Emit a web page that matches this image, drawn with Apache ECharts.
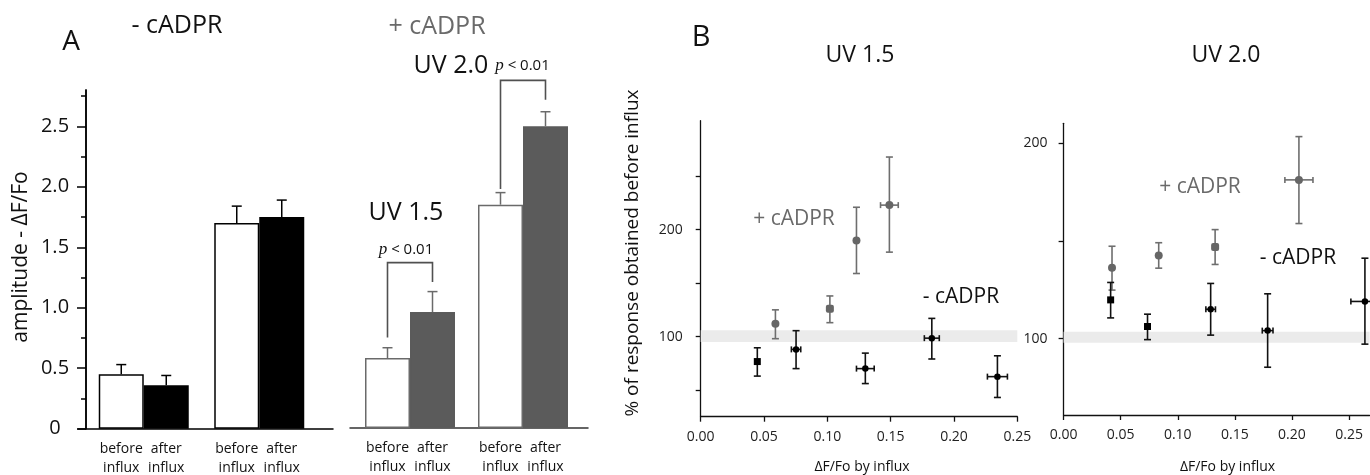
<!DOCTYPE html>
<html><head><meta charset="utf-8">
<script src="https://cdn.jsdelivr.net/npm/echarts@6/dist/echarts.min.js"></script>
<style>html,body{margin:0;padding:0;background:#fff}#c{width:1370px;height:475px}</style>
</head><body><div id="c"></div>
<script>
// ---------- Panel A: amplitude bars ----------
const uvLevels = ['UV 1.5', 'UV 2.0'];
const minusBefore = [0.45, 1.70];
const minusBeforeErr = [0.08, 0.14];
const minusAfter = [0.36, 1.75];
const minusAfterErr = [0.08, 0.14];
const plusBefore = [0.58, 1.85];
const plusBeforeErr = [0.085, 0.10];
const plusAfter = [0.96, 2.50];
const plusAfterErr = [0.17, 0.12];
// significance brackets: [uv index, left foot, top, right foot]
const brackets = [[0, 0.75, 1.37, 1.21], [1, 1.98, 2.88, 2.72]];
const ampMajorTicks = [0, 0.5, 1.0, 1.5, 2.0, 2.5];
const ampMinorTicks = [0.25, 0.75, 1.25, 1.75, 2.25, 2.75];

// ---------- Panel B: UV 1.5 ----------
const plus15X = [0.059, 0.102, 0.123, 0.149];
const plus15Y = [112, 126, 190, 223];
const plus15Lo = [98, 113, 159, 179];
const plus15Hi = [125, 138, 221, 268];
const plus15XErr = [0, 0, 0, 0.007];
const plus15Shape = ['circle', 'roundRect', 'circle', 'circle'];
const minus15X = [0.0447, 0.0753, 0.130, 0.1825, 0.2343];
const minus15Y = [76.6, 88, 70, 98.5, 62.5];
const minus15Lo = [63, 70, 56, 79, 43];
const minus15Hi = [89.5, 105.5, 84.5, 117, 82];
const minus15XErr = [0, 0.0037, 0.007, 0.0059, 0.0079];
const minus15Shape = ['rect', 'circle', 'circle', 'circle', 'circle'];
const band15 = [95, 106];
const ticks15 = [50, 100, 150, 200, 250];
const labels15 = [100, 200];

// ---------- Panel B: UV 2.0 ----------
const plus20X = [0.0424, 0.0833, 0.1327, 0.2061];
const plus20Y = [136.2, 142.5, 146.8, 181.1];
const plus20Lo = [124.8, 136, 137.9, 158.8];
const plus20Hi = [147.2, 149, 155.7, 203.2];
const plus20XErr = [0, 0, 0, 0.0123];
const plus20Shape = ['circle', 'circle', 'roundRect', 'circle'];
const minus20X = [0.0412, 0.0735, 0.1288, 0.1787, 0.2639];
const minus20Y = [119.8, 106.2, 115, 104.1, 119];
const minus20Lo = [110.6, 99.5, 101.8, 85.4, 97.2];
const minus20Hi = [128.7, 112.5, 128.2, 122.9, 141.1];
const minus20XErr = [0, 0, 0.0042, 0.0047, 0.0123];
const minus20Shape = ['rect', 'rect', 'circle', 'circle', 'circle'];
const band20 = [97.9, 103.5];
const ticks20 = [100, 150, 200];
const labels20 = [100, 200];
const xTicksB = [0, 0.05, 0.10, 0.15, 0.20, 0.25];

const FONT = '"Open Sans", "Noto Sans", sans-serif';
const GRAY = '#6a6a6a';
const BAR_W = 45;

function barErr(offsetSign, color) {
  return function (params, api) {
    const c = api.value(0), v = api.value(1), e = api.value(2);
    const b = api.coord([c, v]);
    const t = api.coord([c, v + e]);
    const x = b[0] + offsetSign * BAR_W / 2;
    return {type: 'group', children: [
      {type: 'line', shape: {x1: x, y1: b[1], x2: x, y2: t[1]}, style: {stroke: color, lineWidth: 1.5}},
      {type: 'line', shape: {x1: x - 5, y1: t[1], x2: x + 5, y2: t[1]}, style: {stroke: color, lineWidth: 1.5}}
    ]};
  };
}
function bracketRender(params, api) {
  const c = api.value(0);
  const l = api.coord([c, api.value(1)]);
  const t = api.coord([c, api.value(2)]);
  const r = api.coord([c, api.value(3)]);
  const xl = l[0] - BAR_W / 2, xr = l[0] + BAR_W / 2;
  return {type: 'polyline', shape: {points: [[xl, l[1]], [xl, t[1]], [xr, t[1]], [xr, r[1]]]},
    style: {stroke: '#505050', lineWidth: 1.6, fill: null}};
}
function ptErr(color) {
  return function (params, api) {
    const x = api.value(0), y = api.value(1), lo = api.value(2), hi = api.value(3), xe = api.value(4);
    const pl = api.coord([x, lo]), ph = api.coord([x, hi]);
    const st = {stroke: color, lineWidth: 1.6};
    const ch = [
      {type: 'line', shape: {x1: pl[0], y1: pl[1], x2: ph[0], y2: ph[1]}, style: st},
      {type: 'line', shape: {x1: pl[0] - 3.5, y1: pl[1], x2: pl[0] + 3.5, y2: pl[1]}, style: st},
      {type: 'line', shape: {x1: ph[0] - 3.5, y1: ph[1], x2: ph[0] + 3.5, y2: ph[1]}, style: st}
    ];
    if (xe > 0) {
      const a = api.coord([x - xe, y]), b = api.coord([x + xe, y]);
      ch.push({type: 'line', shape: {x1: a[0], y1: a[1], x2: b[0], y2: b[1]}, style: st});
      ch.push({type: 'line', shape: {x1: a[0], y1: a[1] - 3, x2: a[0], y2: a[1] + 3}, style: st});
      ch.push({type: 'line', shape: {x1: b[0], y1: b[1] - 3, x2: b[0], y2: b[1] + 3}, style: st});
    }
    return {type: 'group', children: ch};
  };
}
const sizeOf = {circle: 8, roundRect: 8, rect: 7};
function pts(X, Y, shapes, small) {
  return X.map((x, i) => ({value: [x, Y[i]], symbol: shapes[i],
    symbolSize: shapes[i] === 'circle' && small ? 6.5 : sizeOf[shapes[i]]}));
}
function errData(X, Y, Lo, Hi, XE) { return X.map((x, i) => [x, Y[i], Lo[i], Hi[i], XE[i]]); }

const barLabel = {show: true, position: 'bottom', distance: 11,
  formatter: p => p.seriesName.replace(' ', '\n'),
  color: '#111', fontSize: 14, lineHeight: 19, fontFamily: FONT};

const lineOnlyX = (gi, color) => ({gridIndex: gi, type: 'value', min: 0, max: 1,
  axisLine: {show: true, lineStyle: {color: color, width: 1.5}}, axisTick: {show: false},
  axisLabel: {show: false}, splitLine: {show: false}});
const bX = (gi, max) => ({gridIndex: gi, type: 'value', min: 0, max: max,
  axisLine: {show: true, lineStyle: {color: '#111', width: 1.3}},
  axisTick: {show: true, length: 5, customValues: xTicksB, lineStyle: {color: '#111', width: 1.3}},
  axisLabel: {customValues: xTicksB, formatter: v => v.toFixed(2), fontSize: 14, color: '#222', margin: 13, fontFamily: FONT},
  splitLine: {show: false}});
const bY = (gi, min, max, ticks, labels, margin) => ({gridIndex: gi, type: 'value', min: min, max: max,
  axisLine: {show: true, lineStyle: {color: '#111', width: 1.3}},
  axisTick: {show: true, length: 5, customValues: ticks, lineStyle: {color: '#111', width: 1.3}},
  axisLabel: {customValues: labels, fontSize: 14, color: '#222', margin: margin, fontFamily: FONT},
  splitLine: {show: false}});

function txt(text, x, y, size, color, extra) {
  return Object.assign({type: 'text', x: x, y: y, silent: true,
    style: {text: text, font: size + 'px ' + FONT, fill: color || '#111',
      align: 'center', verticalAlign: 'middle'}},
    extra && extra.rotation ? {rotation: extra.rotation} : {});
}
const pRich = {i: {fontStyle: 'italic', fontFamily: '"Liberation Serif", "DejaVu Serif", serif', fontSize: 17, fill: '#111'}};

const option = {
  animation: false,
  backgroundColor: '#fff',
  grid: [
    {left: 86, top: 90, width: 231, height: 338.7},
    {left: 353.5, top: 90, width: 226, height: 338},
    {left: 78, top: 90, width: 255, height: 338.7},
    {left: 350, top: 90, width: 238, height: 338},
    {left: 700.7, top: 120.7, width: 316.6, height: 296},
    {left: 1063.6, top: 123.3, width: 306, height: 291.7},
    {left: 86, top: 90, width: 231, height: 338.7}
  ],
  xAxis: [
    {gridIndex: 0, type: 'category', data: uvLevels, axisLine: {show: false}, axisTick: {show: false}, axisLabel: {show: false}},
    {gridIndex: 1, type: 'category', data: uvLevels, axisLine: {show: false}, axisTick: {show: false}, axisLabel: {show: false}},
    lineOnlyX(2, '#000'),
    lineOnlyX(3, '#333'),
    bX(4, 0.25),
    bX(5, 0.268),
    {gridIndex: 6, type: 'value', min: 0, max: 1, show: false}
  ],
  yAxis: [
    {gridIndex: 0, type: 'value', position: 'left', min: 0, max: 2.8,
      axisLine: {show: true, lineStyle: {color: '#000', width: 1.5}},
      axisTick: {show: true, length: 9, customValues: ampMajorTicks, lineStyle: {color: '#000', width: 1.5}},
      axisLabel: {customValues: ampMajorTicks, formatter: v => v === 0 ? '0' : v.toFixed(1),
        fontSize: 20, color: '#111', align: 'center', margin: 31, fontFamily: FONT},
      splitLine: {show: false}},
    {gridIndex: 6, type: 'value', position: 'left', min: 0, max: 2.8,
      axisLine: {show: true, lineStyle: {color: '#000', width: 1.5}},
      axisTick: {show: true, length: 5, customValues: ampMinorTicks, lineStyle: {color: '#000', width: 1.5}},
      axisLabel: {show: false}, splitLine: {show: false}},
    {gridIndex: 1, type: 'value', min: 0, max: 2.8, show: false},
    {gridIndex: 2, type: 'value', min: 0, max: 1, show: false},
    {gridIndex: 3, type: 'value', min: 0, max: 1, show: false},
    bY(4, 25, 302, ticks15, labels15, 18),
    bY(5, 61, 210, ticks20, labels20, 16)
  ],
  series: [
    {type: 'bar', name: 'before influx', xAxisIndex: 0, yAxisIndex: 0, data: minusBefore, barWidth: BAR_W, barGap: '0%',
      itemStyle: {color: '#fff', borderColor: '#000', borderWidth: 1.5}, label: barLabel},
    {type: 'bar', name: 'after influx', xAxisIndex: 0, yAxisIndex: 0, data: minusAfter, barWidth: BAR_W, barGap: '0%',
      itemStyle: {color: '#000', borderColor: '#000', borderWidth: 1.5}, label: barLabel},
    {type: 'custom', xAxisIndex: 0, yAxisIndex: 0, renderItem: barErr(-1, '#000'), z: 5,
      data: minusBefore.map((v, i) => [i, v, minusBeforeErr[i]])},
    {type: 'custom', xAxisIndex: 0, yAxisIndex: 0, renderItem: barErr(1, '#000'), z: 5,
      data: minusAfter.map((v, i) => [i, v, minusAfterErr[i]])},
    {type: 'bar', name: 'before influx', xAxisIndex: 1, yAxisIndex: 2, data: plusBefore, barWidth: BAR_W, barGap: '0%',
      itemStyle: {color: '#fff', borderColor: '#6a6a6a', borderWidth: 1.5}, label: barLabel},
    {type: 'bar', name: 'after influx', xAxisIndex: 1, yAxisIndex: 2, data: plusAfter, barWidth: BAR_W, barGap: '0%',
      itemStyle: {color: '#5b5b5b', borderColor: '#5b5b5b', borderWidth: 1.5}, label: barLabel},
    {type: 'custom', xAxisIndex: 1, yAxisIndex: 2, renderItem: barErr(-1, '#6a6a6a'), z: 5,
      data: plusBefore.map((v, i) => [i, v, plusBeforeErr[i]])},
    {type: 'custom', xAxisIndex: 1, yAxisIndex: 2, renderItem: barErr(1, '#6a6a6a'), z: 5,
      data: plusAfter.map((v, i) => [i, v, plusAfterErr[i]])},
    {type: 'custom', xAxisIndex: 1, yAxisIndex: 2, renderItem: bracketRender, z: 5, clip: false, data: brackets},
    // UV 1.5 scatter
    {type: 'scatter', xAxisIndex: 4, yAxisIndex: 5, data: [], silent: true,
      markArea: {silent: true, itemStyle: {color: '#ebebeb'}, data: [[{yAxis: band15[0]}, {yAxis: band15[1]}]]}},
    {type: 'custom', xAxisIndex: 4, yAxisIndex: 5, renderItem: ptErr('#6e6e6e'), z: 3,
      data: errData(plus15X, plus15Y, plus15Lo, plus15Hi, plus15XErr)},
    {type: 'custom', xAxisIndex: 4, yAxisIndex: 5, renderItem: ptErr('#111'), z: 3,
      data: errData(minus15X, minus15Y, minus15Lo, minus15Hi, minus15XErr)},
    {type: 'scatter', xAxisIndex: 4, yAxisIndex: 5, z: 4, itemStyle: {color: '#666', opacity: 1},
      data: pts(plus15X, plus15Y, plus15Shape, false)},
    {type: 'scatter', xAxisIndex: 4, yAxisIndex: 5, z: 4, itemStyle: {color: '#000', opacity: 1},
      data: pts(minus15X, minus15Y, minus15Shape, true)},
    // UV 2.0 scatter
    {type: 'scatter', xAxisIndex: 5, yAxisIndex: 6, data: [], silent: true,
      markArea: {silent: true, itemStyle: {color: '#ebebeb'}, data: [[{yAxis: band20[0]}, {yAxis: band20[1]}]]}},
    {type: 'custom', xAxisIndex: 5, yAxisIndex: 6, renderItem: ptErr('#6e6e6e'), z: 3, clip: false,
      data: errData(plus20X, plus20Y, plus20Lo, plus20Hi, plus20XErr)},
    {type: 'custom', xAxisIndex: 5, yAxisIndex: 6, renderItem: ptErr('#111'), z: 3, clip: false,
      data: errData(minus20X, minus20Y, minus20Lo, minus20Hi, minus20XErr)},
    {type: 'scatter', xAxisIndex: 5, yAxisIndex: 6, z: 4, itemStyle: {color: '#666', opacity: 1},
      data: pts(plus20X, plus20Y, plus20Shape, false)},
    {type: 'scatter', xAxisIndex: 5, yAxisIndex: 6, z: 4, itemStyle: {color: '#000', opacity: 1},
      data: pts(minus20X, minus20Y, minus20Shape, true)}
  ],
  graphic: [
    txt('A', 71, 42, 28),
    txt('- cADPR', 177, 26, 25),
    txt('+ cADPR', 437, 27, 25, GRAY),
    txt('UV 2.0', 451, 65.5, 25),
    {type: 'text', x: 522.5, y: 66, silent: true, style: {text: '{i|p} < 0.01', rich: pRich,
      font: '15px ' + FONT, fill: '#111', align: 'center', verticalAlign: 'middle'}},
    txt('UV 1.5', 406, 213, 25),
    {type: 'text', x: 406, y: 250, silent: true, style: {text: '{i|p} < 0.01', rich: pRich,
      font: '15px ' + FONT, fill: '#111', align: 'center', verticalAlign: 'middle'}},
    txt('amplitude - ΔF/Fo', 21, 257, 21, '#111', {rotation: Math.PI / 2}),
    txt('B', 701, 38, 29),
    txt('UV 1.5', 860, 55, 23),
    txt('UV 2.0', 1226, 55, 23),
    txt('% of response obtained before influx', 633, 253, 19, '#111', {rotation: Math.PI / 2}),
    txt('+ cADPR', 794, 219, 21, GRAY),
    txt('- cADPR', 961, 297.5, 21),
    txt('+ cADPR', 1200, 187.5, 21, GRAY),
    txt('- cADPR', 1298, 258.5, 21),
    txt('ΔF/Fo by influx', 862, 467, 14),
    txt('ΔF/Fo by influx', 1227.5, 467, 14)
  ]
};
const chart = echarts.init(document.getElementById('c'), null, {renderer: 'canvas'});
chart.setOption(option);
</script></body></html>
